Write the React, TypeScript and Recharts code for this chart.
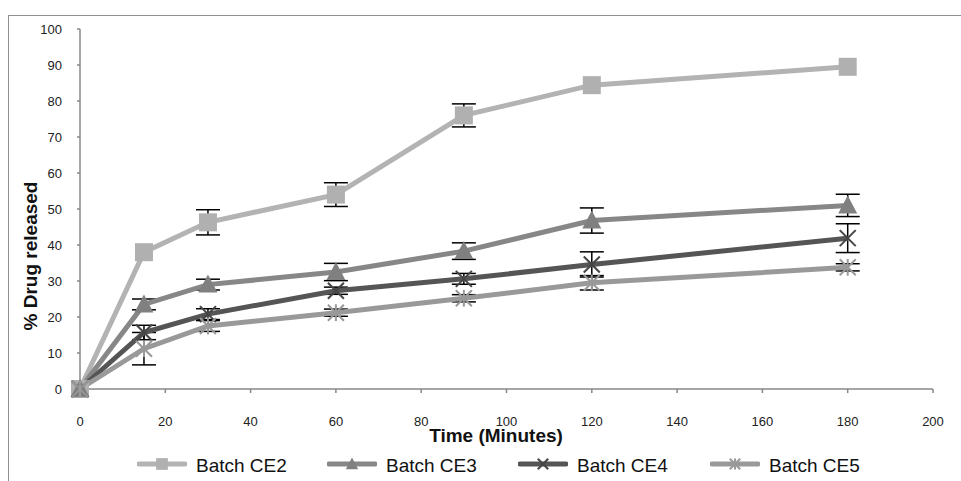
import React from 'react';
import { LineChart, Line, XAxis, YAxis, ErrorBar, Legend } from 'recharts';

const times = [0, 15, 30, 60, 90, 120, 180];
const ce2 = [0, 38, 46.3, 54, 76, 84.4, 89.5];
const ce2Err = [null, null, 3.5, 3.3, 3.2, null, null];
const ce3 = [0, 23.5, 29, 32.5, 38.3, 46.8, 51];
const ce3Err = [null, 1.5, 1.5, 2.4, 2.3, 3.5, 3.1];
const ce4 = [0, 15.7, 20.8, 27.3, 30.6, 34.6, 41.9];
const ce4Err = [null, 2, 1.5, 1, 1.5, 3.5, 4];
const ce5 = [0, 11.2, 17.5, 21.2, 25.2, 29.5, 33.8];
const ce5Err = [null, 4.5, 1.5, 1, 1, 2, 1];

const xTicks = [0, 20, 40, 60, 80, 100, 120, 140, 160, 180, 200];
const yTicks = [0, 10, 20, 30, 40, 50, 60, 70, 80, 90, 100];

const seriesNames = ['Batch CE2', 'Batch CE3', 'Batch CE4', 'Batch CE5'];
const xLabel = 'Time (Minutes)';
const yLabel = '% Drug released';

const FONT = '"Liberation Sans", Arial, sans-serif';

const data = times.map((t, i) => ({
  t,
  ce2: ce2[i], ce2Err: ce2Err[i],
  ce3: ce3[i], ce3Err: ce3Err[i],
  ce4: ce4[i], ce4Err: ce4Err[i],
  ce5: ce5[i], ce5Err: ce5Err[i],
}));

type Shape = 'square' | 'triangle' | 'x' | 'star';

const series: { key: string; name: string; color: string; markerColor: string; shape: Shape }[] = [
  { key: 'ce2', name: seriesNames[0], color: '#b3b3b3', markerColor: '#b0b0b0', shape: 'square' },
  { key: 'ce3', name: seriesNames[1], color: '#878787', markerColor: '#808080', shape: 'triangle' },
  { key: 'ce4', name: seriesNames[2], color: '#555555', markerColor: '#454545', shape: 'x' },
  { key: 'ce5', name: seriesNames[3], color: '#999999', markerColor: '#999999', shape: 'star' },
];

function Marker({ cx, cy, shape, color, s = 1 }: { cx: number; cy: number; shape: Shape; color: string; s?: number }) {
  if (cx == null || cy == null) return null;
  if (shape === 'square') {
    const h = 9 * s;
    return <rect x={cx - h} y={cy - h} width={2 * h} height={2 * h} fill={color} />;
  }
  if (shape === 'triangle') {
    return (
      <polygon
        points={`${cx},${cy - 10 * s} ${cx + 9.5 * s},${cy + 8 * s} ${cx - 9.5 * s},${cy + 8 * s}`}
        fill={color}
      />
    );
  }
  const d = 8 * s;
  const sw = 2;
  if (shape === 'x') {
    return (
      <g stroke={color} strokeWidth={sw}>
        <line x1={cx - d} y1={cy - d} x2={cx + d} y2={cy + d} />
        <line x1={cx - d} y1={cy + d} x2={cx + d} y2={cy - d} />
      </g>
    );
  }
  return (
    <g stroke={color} strokeWidth={sw}>
      <line x1={cx - d} y1={cy - d} x2={cx + d} y2={cy + d} />
      <line x1={cx - d} y1={cy + d} x2={cx + d} y2={cy - d} />
      <line x1={cx} y1={cy - d * 1.05} x2={cx} y2={cy + d * 1.05} />
    </g>
  );
}

const legendLeft = [137, 327, 518, 710];

function LegendContent() {
  return (
    <div style={{ position: 'relative', width: 961, height: 24 }}>
      {series.map((s, i) => (
        <div
          key={s.key}
          style={{ position: 'absolute', left: legendLeft[i], top: 0, height: 24, display: 'flex', alignItems: 'center' }}
        >
          <svg width={50} height={24} style={{ display: 'block' }}>
            <line x1={2} y1={10} x2={48} y2={10} stroke={s.color} strokeWidth={5} strokeLinecap="round" />
            <Marker cx={25} cy={10} shape={s.shape} color={s.markerColor} s={0.65} />
          </svg>
          <span style={{ marginLeft: 9, fontFamily: FONT, fontSize: 19, color: '#111', lineHeight: '24px', whiteSpace: 'nowrap' }}>
            {s.name}
          </span>
        </div>
      ))}
    </div>
  );
}

export default function App() {
  return (
    <div style={{ position: 'absolute', left: 0, top: 0, width: 961, height: 481, background: '#fff' }}>
      <div
        style={{
          position: 'absolute',
          left: 8,
          top: 15,
          width: 961 - 8,
          height: 481 - 15,
          borderLeft: '1.5px solid #909090',
          borderTop: '1.5px solid #909090',
          boxSizing: 'border-box',
        }}
      />
      <LineChart
        width={961}
        height={481}
        data={data}
        margin={{ top: 29, right: 28, left: 30, bottom: 3 }}
        style={{ fontFamily: FONT }}
      >
        <XAxis
          dataKey="t"
          type="number"
          domain={[0, 200]}
          ticks={xTicks}
          interval={0}
          height={65}
          tickSize={4}
          tickMargin={24}
          axisLine={{ stroke: '#888', strokeWidth: 1.5 }}
          tickLine={{ stroke: '#888', strokeWidth: 1.5 }}
          tick={{ fontSize: 13, fill: '#222', fontFamily: FONT }}
          label={() => (
            <text x={496} y={442} textAnchor="middle" fontSize={19} fontWeight="bold" fill="#111" fontFamily={FONT}>
              {xLabel}
            </text>
          )}
        />
        <YAxis
          type="number"
          domain={[0, 100]}
          ticks={yTicks}
          interval={0}
          width={50}
          tickSize={3}
          tickMargin={15}
          axisLine={{ stroke: '#888', strokeWidth: 1.5 }}
          tickLine={{ stroke: '#888', strokeWidth: 1.5 }}
          tick={{ fontSize: 13, fill: '#222', fontFamily: FONT }}
          label={() => (
            <text
              x={30}
              y={256}
              transform="rotate(-90 30 256)"
              textAnchor="middle"
              dominantBaseline="central"
              fontSize={19}
              fontWeight="bold"
              fill="#111"
              fontFamily={FONT}
            >
              {yLabel}
            </text>
          )}
        />
        <Legend
          verticalAlign="bottom"
          align="left"
          height={24}
          wrapperStyle={{ left: 0, width: 961, height: 24 }}
          content={() => <LegendContent />}
        />
        {series.map((s) => (
          <Line
            key={`${s.key}-err`}
            dataKey={s.key}
            type="linear"
            stroke="none"
            strokeWidth={0}
            dot={false}
            activeDot={false}
            legendType="none"
            isAnimationActive={false}
          >
            <ErrorBar dataKey={`${s.key}Err`} width={12} stroke="#000" strokeWidth={1.5} direction="y" />
          </Line>
        ))}
        {series.map((s) => (
          <Line
            key={s.key}
            dataKey={s.key}
            name={s.name}
            type="linear"
            stroke={s.color}
            strokeWidth={5}
            isAnimationActive={false}
            activeDot={false}
            dot={(p: any) => (
              <Marker key={`${s.key}-${p.index}`} cx={p.cx} cy={p.cy} shape={s.shape} color={s.markerColor} />
            )}
          />
        ))}
      </LineChart>
    </div>
  );
}
